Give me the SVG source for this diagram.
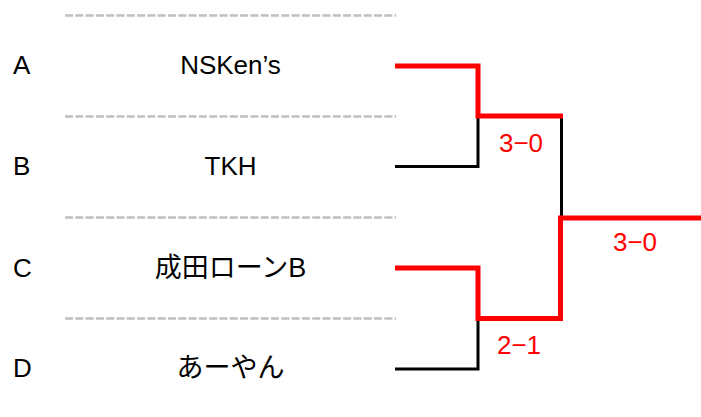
<svg xmlns="http://www.w3.org/2000/svg" width="701" height="417" viewBox="0 0 701 417">
<style>
.sep{stroke:#c0c0c0;stroke-width:2.5;stroke-dasharray:8 2.3;fill:none}
.lose{stroke:#000;stroke-width:3;fill:none}
.win{stroke:#ff0000;stroke-width:5;fill:none;stroke-linejoin:miter}
.t{font-family:"Liberation Sans","Noto Sans CJK JP",sans-serif;font-size:26px;fill:#000}
.n{text-anchor:middle}
.j{font-size:27px}
.s{font-family:"Liberation Sans","Noto Sans CJK JP",sans-serif;font-size:26px;fill:#ff0000;text-anchor:middle}
</style>
<rect width="701" height="417" fill="#fff"/>
<g id="separators">
<line class="sep" x1="65" y1="15.5" x2="396" y2="15.5"/>
<line class="sep" x1="65" y1="116.5" x2="396" y2="116.5"/>
<line class="sep" x1="65" y1="217.5" x2="396" y2="217.5"/>
<line class="sep" x1="65" y1="318.5" x2="396" y2="318.5"/>
</g>
<g id="nodeA"><text class="t" x="13" y="74">A</text><text class="t n" x="230.5" y="74">NSKen’s</text></g>
<g id="nodeB"><text class="t" x="13" y="175">B</text><text class="t n" x="230.5" y="175">TKH</text></g>
<g id="nodeC"><text class="t" x="13" y="276.5">C</text><text class="t n j" x="230.5" y="277">成田ローンB</text></g>
<g id="nodeD"><text class="t" x="13" y="377">D</text><text class="t n j" x="230.5" y="377">あーやん</text></g>
<g id="connectors">
<path class="lose" d="M395,166.5 H478 V116"/>
<path class="lose" d="M395,369 H478 V318.5"/>
<path class="lose" d="M561.5,116 V218"/>
<path class="win" d="M395,66 H478 V116 H563"/>
<path class="win" d="M395,268 H478 V318.5 H560.5 V218 H701"/>
</g>
<g id="scores">
<text class="s" x="521" y="152">3−0</text>
<text class="s" x="635" y="251">3−0</text>
<text class="s" x="519" y="354">2−1</text>
</g>
</svg>
